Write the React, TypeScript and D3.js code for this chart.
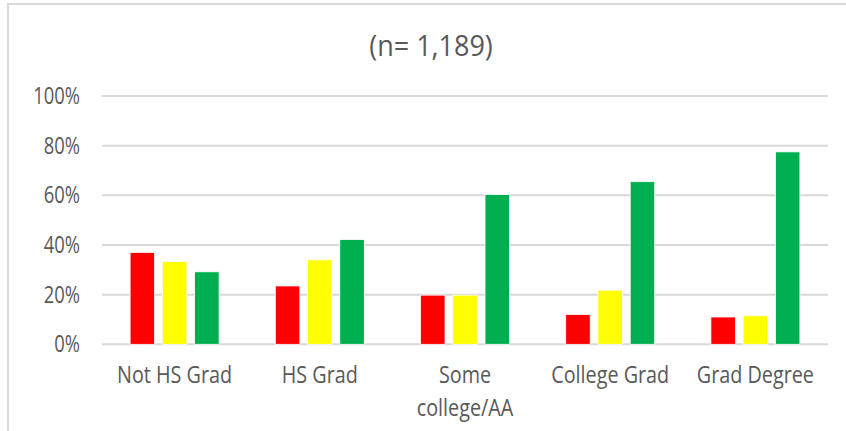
import React from "react";
import * as d3 from "d3";

const categories = ["Not HS Grad", "HS Grad", "Some college/AA", "College Grad", "Grad Degree"];
const categoryLines = [["Not HS Grad"], ["HS Grad"], ["Some", "college/AA"], ["College Grad"], ["Grad Degree"]];
const seriesNames = ["Red", "Yellow", "Green"];
const seriesColors = ["#FF0000", "#FFFF00", "#00B050"];
const redValues = [37, 23.5, 19.8, 12, 11];
const yellowValues = [33.3, 34, 19.8, 21.8, 11.5];
const greenValues = [29.2, 42.2, 60.3, 65.5, 77.5];
const yTicks = [0, 20, 40, 60, 80, 100];
const title = "(n= 1,189)";

const W = 846;
const H = 431;
const FONT = "'Open Sans', Lato, sans-serif";
const TEXT = "#595959";

function T({ x, y, size, anchor, sx = 0.86, children }: { x: number; y: number; size: number; anchor: string; sx?: number; children: React.ReactNode }) {
  return (
    <text
      transform={`translate(${x},${y}) scale(${sx},1)`}
      textAnchor={anchor}
      fontFamily={FONT}
      fontSize={size}
      fill={TEXT}
    >
      {children}
    </text>
  );
}

export default function App() {
  const series = [redValues, yellowValues, greenValues];
  const x0 = d3.scaleBand<string>().domain(categories).range([102, 828]).padding(0);
  const groupW = 89;
  const x1 = d3.scaleBand<string>().domain(seriesNames).range([0, groupW]).paddingInner(0.24);
  const y = d3.scaleLinear().domain([0, 100]).range([344.3, 96]);

  return (
    <div style={{ position: "fixed", left: 0, top: 0 }}>
      <svg width={W} height={H} style={{ display: "block", background: "#fff" }}>
        <path d={`M8,${H + 5} V4 H${W + 5}`} fill="none" stroke="#d9d9d9" strokeWidth={2} />
        <T x={431} y={56} size={30} sx={0.9} anchor="middle">{title}</T>
        {yTicks.map((t) => (
          <g key={t}>
            <line x1={102} x2={828} y1={y(t)} y2={y(t)} stroke="#d9d9d9" strokeWidth={2} />
            <T x={80} y={y(t) + 8} size={23} sx={0.8} anchor="end">{`${t}%`}</T>
          </g>
        ))}
        {categories.map((c, i) => {
          const cx = (x0(c) as number) + x0.bandwidth() / 2;
          const gx = cx - groupW / 2;
          return (
            <g key={c}>
              {series.map((vals, s) => (
                <rect
                  key={s}
                  x={gx + (x1(seriesNames[s]) as number)}
                  y={y(vals[i])}
                  width={x1.bandwidth()}
                  height={y(0) - y(vals[i])}
                  fill={seriesColors[s]}
                  stroke="#ffffff"
                  strokeWidth={0.8}
                />
              ))}
              {categoryLines[i].map((ln, k) => (
                <T key={k} x={cx} y={383 + k * 33} size={23} anchor="middle">{ln}</T>
              ))}
            </g>
          );
        })}
      </svg>
    </div>
  );
}
